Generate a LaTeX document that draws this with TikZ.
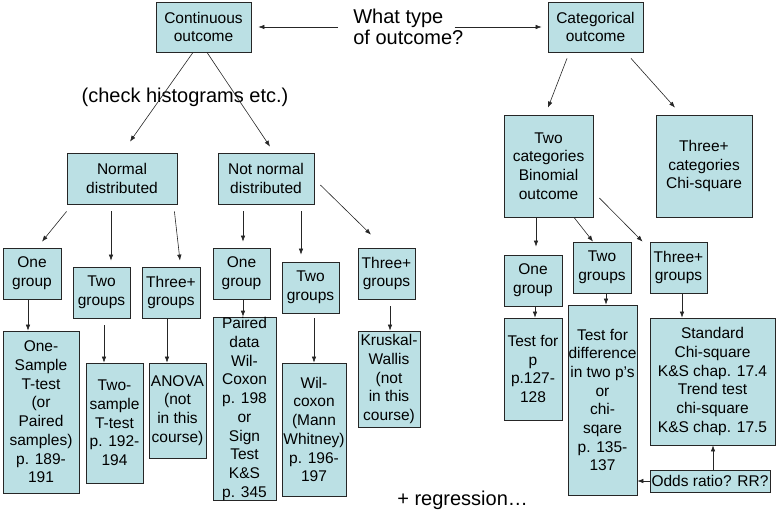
\documentclass[tikz,border=0pt]{standalone}
\usepackage{fontspec}
\setmainfont{Liberation Sans}
\usetikzlibrary{arrows.meta}
\definecolor{boxblue}{RGB}{187,224,228}

\begin{document}
\begin{tikzpicture}[
x=1pt, y=-1pt,
->,
>={Latex[length=6pt,width=4.5pt]},
line width=0.6pt,
draw=black!85,
box node/.style={rectangle,
                 fill=boxblue,
                 draw=black!85,
                 line width=0.8pt,
                 align=center,
                 inner sep=0.5pt,
                 font=\fontsize{15.5}{18.7}\selectfont},
big text/.style={inner sep=0pt,
                 font=\fontsize{20}{20}\selectfont}]
\useasboundingbox (0,0) rectangle (776,511);
%top
  \node[box node, minimum width=95pt, minimum height=50pt] (cont) at (203.5,27) {Continuous\\outcome};
  \node[box node, minimum width=95pt, minimum height=50pt] (cat) at (595.5,27) {Categorical\\outcome};
  \node[big text, anchor=west] (qa) at (353,18) {What type};
  \node[big text, anchor=west] (qb) at (353,37) {of outcome?};
  \node[big text] (chk) at (185,97) {(check histograms etc.)};
%second row
  \node[box node, minimum width=110pt, minimum height=51pt] (norm) at (122,178.5) {Normal\\distributed};
  \node[box node, minimum width=96pt, minimum height=51pt] (notnorm) at (266,178.5) {Not normal\\distributed};
  \node[box node, minimum width=89pt, minimum height=102pt] (twocat) at (548.5,166) {Two\\categories\\Binomial\\outcome};
  \node[box node, minimum width=96pt, minimum height=102pt] (threecat) at (704,166) {Three+\\categories\\Chi-square};
%groups
  \node[box node, minimum width=58pt, minimum height=51pt] (ng1) at (32,273.5) {One\\group};
  \node[box node, minimum width=57pt, minimum height=51pt] (ng2) at (101.5,292.5) {Two\\groups};
  \node[box node, minimum width=58pt, minimum height=51pt] (ng3) at (171,292.5) {Three+\\groups};
  \node[box node, minimum width=57pt, minimum height=51pt] (nn1) at (241.5,273.5) {One\\group};
  \node[box node, minimum width=57pt, minimum height=51pt] (nn2) at (310.5,287.5) {Two\\groups};
  \node[box node, minimum width=57pt, minimum height=51pt] (nn3) at (386.5,273.5) {Three+\\groups};
  \node[box node, minimum width=58pt, minimum height=51pt] (cg1) at (533,280.5) {One\\group};
  \node[box node, minimum width=58pt, minimum height=51pt] (cg2) at (602,267.5) {Two\\groups};
  \node[box node, minimum width=57pt, minimum height=51pt] (cg3) at (678.5,267.5) {Three+\\groups};
%tests
  \node[box node, minimum width=76pt, minimum height=162pt] (t1) at (41,412) {One-\\Sample\\T-test\\(or\\Paired\\samples)\\p. 189-\\191};
  \node[box node, minimum width=57pt, minimum height=120pt] (t2) at (114.5,423) {Two-\\sample\\T-test\\p. 192-\\194};
  \node[box node, minimum width=57pt, minimum height=95pt] (t3) at (177.5,410.5) {ANOVA\\(not\\in this\\course)};
  \node[box node, minimum width=63pt, minimum height=182pt] (t4) at (244.5,409) {Paired\\data\\Wil-\\Coxon\\p. 198\\or\\Sign\\Test\\K\&S\\p. 345};
  \node[box node, minimum width=64pt, minimum height=133pt] (t5) at (314,429.5) {Wil-\\coxon\\(Mann\\Whitney)\\p. 196-\\197};
  \node[box node, minimum width=62pt, minimum height=96pt] (t6) at (389,379) {Kruskal-\\Wallis\\(not\\in this\\course)};
  \node[box node, minimum width=58pt, minimum height=102pt] (t7) at (533,369) {Test for\\p\\p.127-\\128};
  \node[box node, minimum width=69pt, minimum height=190pt] (t8) at (602.5,400) {Test for\\difference\\in two p's\\or\\chi-\\sqare\\p. 135-\\137};
  \node[box node, minimum width=125pt, minimum height=127pt] (t9) at (712.5,381.5) {Standard\\Chi-square\\K\&S chap. 17.4\\Trend test\\chi-square\\K\&S chap. 17.5};
  \node[box node, minimum width=120pt, minimum height=22pt] (odds) at (710,481) {Odds ratio? RR?};
  \node[big text, anchor=west] (reg) at (397,500) {+ regression…};
%paths
  \path
    (qa.west |- cont.east) edge[shorten <=15pt, shorten >=7pt] (cont.east)
    (qa.east |- cat.west) edge[shorten <=11pt, shorten >=6pt] (cat.west)
    ([xshift=-10.5pt]cont.south) edge ([xshift=8pt,yshift=11pt]norm.north)
    ([xshift=3.5pt]cont.south) edge ([xshift=4pt,yshift=6pt]notnorm.north)
    ([xshift=-28.5pt,yshift=-6pt]cat.south) edge ([xshift=-0.5pt,yshift=7pt]twocat.north)
    ([xshift=35.5pt,yshift=-6pt]cat.south) edge ([xshift=-29pt,yshift=7pt]threecat.north)
    ([yshift=-7pt]norm.south west) edge ([xshift=10pt,yshift=6pt]ng1.north)
    (norm.south -| 111,0) edge[shorten <=7pt, shorten >=6pt] (ng2.north -| 111,0)
    ([xshift=-3pt,yshift=-7pt]norm.south east) edge ([xshift=9pt,yshift=6pt]ng3.north)
    (notnorm.south -| 243,0) edge[shorten <=7pt, shorten >=6pt] (nn1.north -| 243,0)
    (notnorm.south -| 301,0) edge[shorten <=7pt, shorten >=7pt] (nn2.north -| 301,0)
    ([xshift=6pt,yshift=-6.5pt]notnorm.east) edge ([xshift=-15.5pt,yshift=13pt]nn3.north)
    (twocat.south -| 536,0) edge[shorten >=8pt] (cg1.north -| 536,0)
    ([xshift=25.5pt]twocat.south) edge ([xshift=-9pt]cg2.north)
    ([xshift=6pt,yshift=-32pt]twocat.east) edge ([xshift=-7pt]cg3.north west)
    (ng1.south -| 28,0) edge (t1.north -| 28,0)
    (ng2.south -| 104,0) edge[shorten <=7pt] (t2.north -| 104,0)
    (ng3.south -| 167,0) edge (t3.north -| 167,0)
    (nn1.south -| 243,0) edge (t4.north -| 243,0)
    (nn2.south -| 314,0) edge[shorten <=5pt] (t5.north -| 314,0)
    (nn3.south -| 390,0) edge[shorten <=7pt] (t6.north -| 390,0)
    (cg1.south -| 535,0) edge (t7.north -| 535,0)
    (cg2.south -| 606,0) edge (t8.north -| 606,0)
    (cg3.south -| 682,0) edge (t9.north -| 682,0)
    (odds.north -| 713,0) edge (t9.south -| 713,0)
    (odds.west) edge (t8.east |- odds.west);
\end{tikzpicture}
\end{document}
